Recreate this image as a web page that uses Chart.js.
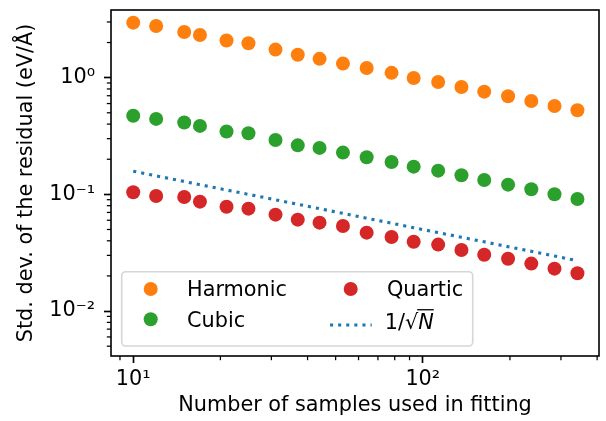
<!DOCTYPE html>
<html><head><meta charset="utf-8">
<script src="https://cdn.jsdelivr.net/npm/chart.js@4.4.0/dist/chart.umd.min.js"></script>
<style>html,body{margin:0;padding:0;background:#fff}#wrap{width:606px;height:421px}</style>
</head><body><div id="wrap"><canvas id="c" width="606" height="421"></canvas></div>
<script>
// ---- data ----
const samples  = [10, 12, 15, 17, 21, 25, 31, 37, 44, 53, 64, 78, 93, 113, 136, 163, 197, 237, 285, 342];
const harmonic = [2.96, 2.77, 2.46, 2.32, 2.08, 1.97, 1.74, 1.57, 1.45, 1.32, 1.21, 1.10, 0.994, 0.919, 0.832, 0.759, 0.693, 0.631, 0.572, 0.526];
const cubic    = [0.472, 0.443, 0.413, 0.386, 0.346, 0.334, 0.292, 0.263, 0.250, 0.228, 0.208, 0.1895, 0.1727, 0.1596, 0.1458, 0.1329, 0.1211, 0.1106, 0.1002, 0.0913];
const quartic  = [0.1042, 0.0969, 0.0950, 0.0866, 0.0784, 0.0754, 0.0670, 0.0607, 0.0572, 0.0536, 0.0470, 0.0431, 0.0393, 0.0371, 0.0334, 0.0304, 0.0281, 0.0255, 0.0231, 0.0211];
const refLine  = [0.158, 0.144, 0.129, 0.121, 0.109, 0.100, 0.0898, 0.0822, 0.0754, 0.0687, 0.0625, 0.0566, 0.0518, 0.0470, 0.0429, 0.0392, 0.0356, 0.0325, 0.0296, 0.0270];
const seriesNames = ['Harmonic', 'Cubic', 'Quartic', '1/√N'];
const xTickLabels = {'1': '10¹', '2': '10²'};
const yTickLabels = {'-2': '10⁻²', '-1': '10⁻¹', '0': '10⁰'};
const xTitle = 'Number of samples used in fitting';
const yTitle = 'Std. dev. of the residual (eV/Å)';

const COLORS = ['#ff7f0e', '#2ca02c', '#d62728', '#1f77b4'];
const FONT = 'DejaVu Sans';
const FS = 20.8;

function toPts(ys) { return samples.map((x, i) => ({x: x, y: ys[i]})); }
function expOf(v) { return Math.round(Math.log10(v)); }
function isPow10(v) { return Math.abs(Math.log10(v) - Math.round(Math.log10(v))) < 1e-6; }
function isNice(v) {
  const e = Math.floor(Math.log10(v) + 1e-9);
  const m = v / Math.pow(10, e);
  return Math.abs(m - Math.round(m)) < 1e-4;
}

Chart.defaults.font.family = FONT;
Chart.defaults.font.size = FS;
Chart.defaults.color = '#000';

const decor = {
  id: 'decor',
  afterDatasetsDraw(chart) {
    const {ctx, chartArea: ca} = chart;
    const ds = chart.data.datasets;
    const x0 = ca.left + 10.7, y1 = ca.bottom - 10, x1 = x0 + 351, y0 = y1 - 74.3, r = 4;
    ctx.save();
    ctx.beginPath();
    ctx.moveTo(x0 + r, y0); ctx.lineTo(x1 - r, y0); ctx.arcTo(x1, y0, x1, y0 + r, r);
    ctx.lineTo(x1, y1 - r); ctx.arcTo(x1, y1, x1 - r, y1, r);
    ctx.lineTo(x0 + r, y1); ctx.arcTo(x0, y1, x0, y1 - r, r);
    ctx.lineTo(x0, y0 + r); ctx.arcTo(x0, y0, x0 + r, y0, r);
    ctx.closePath();
    ctx.fillStyle = 'rgba(255,255,255,0.8)'; ctx.fill();
    ctx.strokeStyle = '#d6d6d6'; ctx.lineWidth = 1.6; ctx.stroke();

    ctx.font = FS + 'px "' + FONT + '"';
    ctx.textBaseline = 'alphabetic'; ctx.textAlign = 'left';
    ctx.fillStyle = '#000';
    const marker = (i, cx, cy) => {
      ctx.beginPath(); ctx.arc(cx, cy, 7, 0, Math.PI * 2);
      ctx.fillStyle = ds[i].backgroundColor; ctx.fill();
    };
    marker(0, x0 + 29, y0 + 17.3);
    marker(1, x0 + 29, y0 + 47.6);
    marker(2, x0 + 229, y0 + 17.3);
    ctx.fillStyle = '#000';
    ctx.fillText(ds[0].label, x0 + 65.3, y0 + 24.3);
    ctx.fillText(ds[1].label, x0 + 65.3, y0 + 55);
    ctx.fillText(ds[2].label, x0 + 265.3, y0 + 24.3);
    // dotted handle
    ctx.beginPath();
    ctx.setLineDash([3.1, 5]);
    ctx.strokeStyle = ds[3].borderColor; ctx.lineWidth = 3.1; ctx.lineCap = 'butt';
    ctx.moveTo(x0 + 208.3, y0 + 53.3); ctx.lineTo(x0 + 250, y0 + 53.3); ctx.stroke();
    ctx.setLineDash([]);
    // 1/sqrt(N) label
    const lbl = ds[3].label;           // '1/√N'
    const head = lbl.slice(0, 2), rad = lbl.slice(2, 3), tail = lbl.slice(3);
    let tx = x0 + 263, by = y0 + 57.6;
    ctx.fillStyle = '#000';
    ctx.fillText(head, tx, by); tx += ctx.measureText(head).width;
    ctx.fillText(rad, tx, by); tx += ctx.measureText(rad).width;
    ctx.font = 'oblique ' + FS + 'px "' + FONT + '"';
    ctx.fillText(tail, tx, by);
    const nw = ctx.measureText(tail).width;
    ctx.fillRect(tx - 1, by - 20.2, nw + 1, 1.3);
    ctx.restore();
  },
  afterDraw(chart) {
    const {ctx, chartArea: ca, scales} = chart;
    ctx.save();
    ctx.strokeStyle = '#000'; ctx.lineWidth = 1.25;
    for (const t of scales.x.ticks) {
      if (isPow10(t.value)) continue;
      const px = scales.x.getPixelForValue(t.value);
      ctx.beginPath(); ctx.moveTo(px, ca.bottom); ctx.lineTo(px, ca.bottom + 4.2); ctx.stroke();
    }
    for (const t of scales.y.ticks) {
      if (isPow10(t.value)) continue;
      const py = scales.y.getPixelForValue(t.value);
      ctx.beginPath(); ctx.moveTo(ca.left, py); ctx.lineTo(ca.left - 4.2, py); ctx.stroke();
    }
    ctx.lineWidth = 1.6;
    ctx.strokeRect(ca.left, ca.top, ca.right - ca.left, ca.bottom - ca.top);
    ctx.restore();
  }
};

const tickColor = (c) => (c.tick && isPow10(c.tick.value)) ? '#000' : 'rgba(0,0,0,0)';

new Chart(document.getElementById('c'), {
  type: 'scatter',
  data: {
    datasets: [
      {label: seriesNames[0], data: toPts(harmonic), backgroundColor: COLORS[0], borderWidth: 0, pointRadius: 7, pointHoverRadius: 7, order: 4},
      {label: seriesNames[1], data: toPts(cubic), backgroundColor: COLORS[1], borderWidth: 0, pointRadius: 7, pointHoverRadius: 7, order: 3},
      {label: seriesNames[2], data: toPts(quartic), backgroundColor: COLORS[2], borderWidth: 0, pointRadius: 7, pointHoverRadius: 7, order: 2},
      {label: seriesNames[3], data: toPts(refLine), type: 'line', showLine: true, borderColor: COLORS[3], backgroundColor: COLORS[3],
       borderWidth: 3.1, borderDash: [3.1, 5], borderCapStyle: 'butt', pointRadius: 0, fill: false, tension: 0, order: 1}
    ]
  },
  options: {
    responsive: false,
    animation: false,
    devicePixelRatio: 1,
    layout: {padding: {left: 0, top: 10, right: 3, bottom: 0}},
    plugins: {legend: {display: false}, tooltip: {enabled: false}},
    scales: {
      x: {
        type: 'logarithmic', position: 'bottom', min: 8.38, max: 406,
        afterBuildTicks: (s) => { s.ticks = s.ticks.filter(t => isNice(t.value)); },
        afterFit: (s) => { s.height = 65; s.paddingLeft = 0; s.paddingRight = 0; },
        ticks: {autoSkip: false, maxRotation: 0, minRotation: 0, padding: 4.6, color: '#000',
          callback: (v) => isPow10(v) ? (xTickLabels[String(expOf(v))] || '') : ''},
        grid: {display: true, drawOnChartArea: false, drawTicks: true, tickLength: 7, tickWidth: 1.67, tickColor: tickColor},
        border: {display: false},
        title: {display: true, text: xTitle, color: '#000', padding: {top: 0, bottom: 3}, font: {size: FS}}
      },
      y: {
        type: 'logarithmic', position: 'left', min: 0.00412, max: 3.80,
        afterBuildTicks: (s) => { s.ticks = s.ticks.filter(t => isNice(t.value)); },
        afterFit: (s) => { s.width = 111; s.paddingTop = 0; s.paddingBottom = 0; },
        ticks: {autoSkip: false, padding: 9, color: '#000',
          callback: (v) => isPow10(v) ? (yTickLabels[String(expOf(v))] || '') : ''},
        grid: {display: true, drawOnChartArea: false, drawTicks: true, tickLength: 7, tickWidth: 1.67, tickColor: tickColor},
        border: {display: false},
        title: {display: true, text: yTitle, color: '#000', padding: {top: 14, bottom: 0}, font: {size: FS}}
      }
    }
  },
  plugins: [decor]
});
</script>
</body></html>
